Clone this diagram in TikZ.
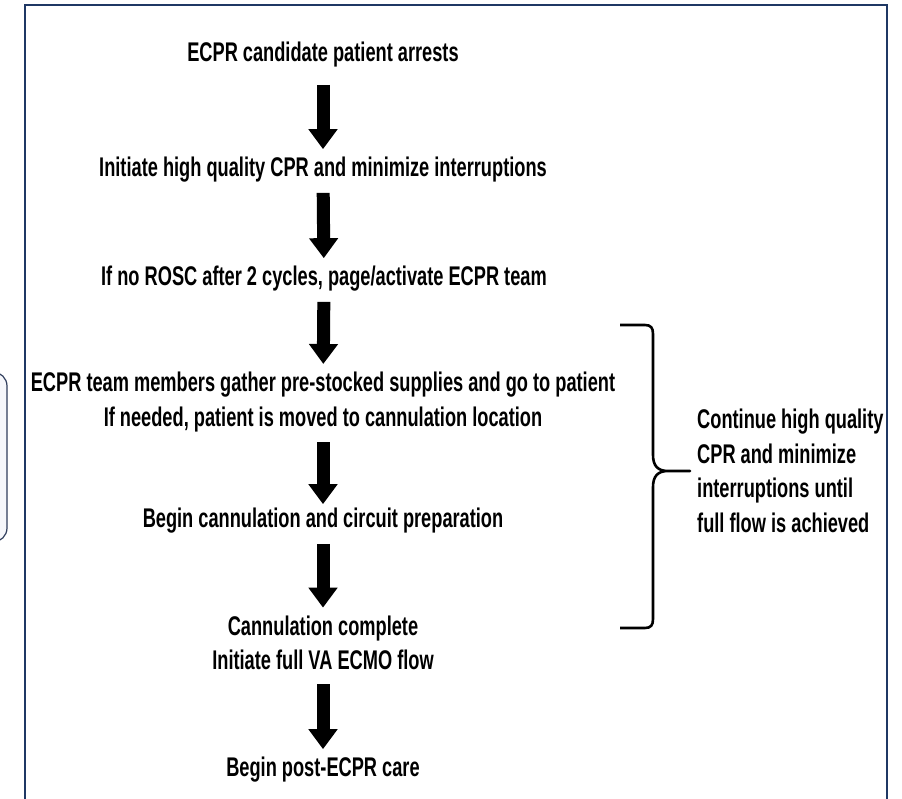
\documentclass[tikz,border=0pt]{standalone}
\usepackage{fontspec}
\newfontfamily\condfont{Liberation Sans}[FakeStretch=0.675]
\usetikzlibrary{positioning,arrows.meta}
\definecolor{framenavy}{HTML}{1F3864}
\definecolor{sidefill}{HTML}{F6F7FB}
\definecolor{sideline}{HTML}{2F3D5C}

\tikzset{
  flow node/.style={font={\condfont\bfseries\fontsize{27}{34.5}\selectfont}, align=center, inner sep=0pt},
  side note/.style={flow node, align=left},
  block arrow/.style={draw, line width=13pt, -{Triangle[width=28pt,length=20pt]}, shorten <=10pt, shorten >=8pt},
}

\begin{document}
\begin{tikzpicture}[x=1pt,y=-1pt]
  \useasboundingbox (0,0) rectangle (902,799);
  % outer frame, open at the bottom
  \draw[framenavy, line width=2.2pt] (25,799) -- (25,5) -- (887,5) -- (887,799);
  % cut-off side panel
  \draw[sideline, fill=sidefill, line width=1.2pt, rounded corners=14pt] (-30,372) rectangle (7,542);

  \node[flow node] (1) at (323,55) {ECPR candidate patient arrests};
  \node[flow node] (2) at (323,170) {Initiate high quality CPR and minimize interruptions};
  \node[flow node] (3) at (324,279) {If no ROSC after 2 cycles, page/activate ECPR team};
  \node[flow node] (4) at (323,402) {ECPR team members gather pre-stocked supplies and go to patient\\If needed, patient is moved to cannulation location};
  \node[flow node] (5) at (323,521) {Begin cannulation and circuit preparation};
  \node[flow node] (6) at (323,643) {Cannulation complete\\Initiate full VA ECMO flow};
  \node[flow node] (7) at (323,770) {Begin post-ECPR care};

  \path (1) edge[block arrow, shorten <=17pt] (2)
        (2) edge[block arrow] (3)
        (3) edge[block arrow] (4)
        (4) edge[block arrow, shorten >=4pt] (5)
        (5) edge[block arrow] (6)
        (6) edge[block arrow, shorten <=14pt] (7);

  % brace
  \coordinate (tip) at (690,471);
  \draw[line width=2.6pt, line join=round] (620,325) -- (645,325)
    .. controls (651,325) and (653,328) .. (653,334) -- (653,455)
    .. controls (653,466) and (658,471) .. (668,471) -- (tip) -- (668,471)
    .. controls (658,471) and (653,476) .. (653,487) -- (653,619)
    .. controls (653,625) and (651,628) .. (645,628) -- (620,628);

  \node[side note, right=7pt of tip] (note) {Continue high quality\\CPR and minimize\\interruptions until\\full flow is achieved};
\end{tikzpicture}
\end{document}
